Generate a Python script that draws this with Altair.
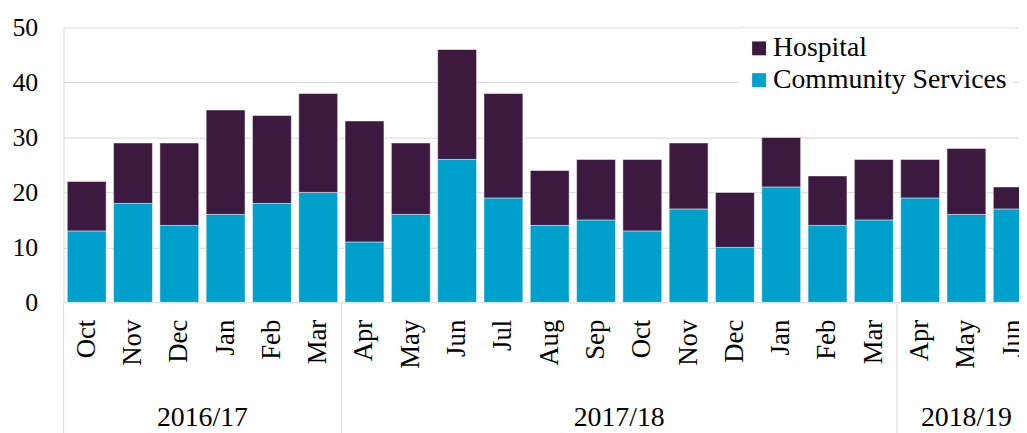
import altair as alt
import pandas as pd

periods = ["Oct 2016", "Nov 2016", "Dec 2016", "Jan 2017", "Feb 2017", "Mar 2017",
           "Apr 2017", "May 2017", "Jun 2017", "Jul 2017", "Aug 2017", "Sep 2017",
           "Oct 2017", "Nov 2017", "Dec 2017", "Jan 2018", "Feb 2018", "Mar 2018",
           "Apr 2018", "May 2018", "Jun 2018"]
community = [13, 18, 14, 16, 18, 20, 11, 16, 26, 19, 14, 15, 13, 17, 10, 21, 14, 15, 19, 16, 17]
hospital = [9, 11, 15, 19, 16, 18, 22, 13, 20, 19, 10, 11, 13, 12, 10, 9, 9, 11, 7, 12, 4]
fy_labels = ["2016/17", "2017/18", "2018/19"]
fy_start = [0, 6, 18]
fy_end = [6, 18, 21]
series = ["Hospital", "Community Services"]
colors = ["#3C1A40", "#00A0CC"]
y_ticks = [0, 10, 20, 30, 40, 50]

rows = []
for i, p in enumerate(periods):
    rows.append({"period": p, "series": "Community Services", "value": community[i], "ord": 0})
    rows.append({"period": p, "series": "Hospital", "value": hospital[i], "ord": 1})
df = pd.DataFrame(rows)
fy = pd.DataFrame({"fy": fy_labels, "start": fy_start, "end": fy_end})

FONT = "Liberation Serif"
W, H = 963, 277
RANGE = 980
N = len(periods)
GRID = "#D9D9D9"

bars = alt.Chart(df).mark_bar(stroke="white", strokeWidth=0.5, clip=True).encode(
    x=alt.X("period:N", sort=periods,
            scale=alt.Scale(range=[0, RANGE], paddingInner=0.16, paddingOuter=0.08),
            axis=alt.Axis(title=None, labelAngle=270, labelAlign="right", labelBaseline="middle",
                          labelPadding=17, ticks=False, domain=False, grid=False,
                          labelExpr="split(datum.label, ' ')[0]",
                          labelFont=FONT, labelFontSize=27, labelColor="#000")),
    y=alt.Y("value:Q", stack="zero",
            scale=alt.Scale(domain=[0, 50], nice=False),
            axis=alt.Axis(title=None, values=y_ticks, ticks=False, domainColor=GRID,
                          gridColor=GRID, labelPadding=26, labelFont=FONT,
                          labelFontSize=26, labelColor="#000")),
    color=alt.Color("series:N", scale=alt.Scale(domain=series, range=colors),
                    legend=alt.Legend(title=None, orient="none", legendX=681, legendY=1,
                                      symbolType="square", symbolSize=196, symbolStrokeWidth=0,
                                      labelOffset=0, labelFont=FONT, labelFontSize=28,
                                      labelLimit=400, labelColor="#000", rowPadding=4,
                                      padding=6, fillColor="white")),
    order=alt.Order("ord:Q"),
)

xq = alt.Scale(domain=[0, N], range=[0, RANGE], nice=False, zero=False)

seps = alt.Chart(fy).mark_rule(color=GRID, strokeWidth=1).encode(
    x=alt.X("start:Q", scale=xq, axis=None),
    y=alt.value(H),
    y2=alt.value(H + 140),
)

fylab = alt.Chart(fy).transform_calculate(
    mid="(datum.start + datum.end) / 2"
).mark_text(font=FONT, fontSize=28, color="#000", baseline="middle").encode(
    x=alt.X("mid:Q", scale=xq, axis=None),
    y=alt.value(394),
    text="fy:N",
)

chart = alt.layer(bars, seps, fylab).resolve_scale(x="independent").properties(
    width=W, height=H,
    autosize=alt.AutoSizeParams(type="none"),
    padding={"left": 56, "top": 18, "right": 0, "bottom": 130},
).configure_view(strokeWidth=0)

chart.save("out.html", embed_options={"renderer": "svg", "actions": False})
